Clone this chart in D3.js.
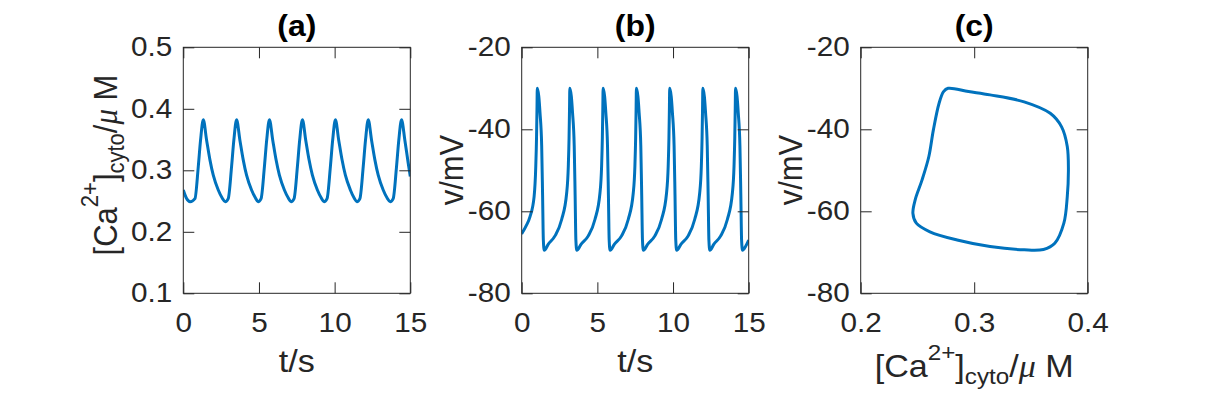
<!DOCTYPE html>
<html>
<head>
<meta charset="utf-8">
<script src="https://cdn.jsdelivr.net/npm/d3@7"></script>
<style>
  body { margin: 0; background: #fff; }
  svg { display: block; font-family: "Liberation Sans", Arial, Helvetica, sans-serif; }
</style>
</head>
<body>
<div id="chart"></div>
<script>
// (a) cytosolic calcium over time
let caTime = [0, 0.2, 0.45, 0.77, 0.99, 1.14, 1.32, 1.54, 1.76, 1.98, 2.31, 2.57,
  2.77, 2.97, 3.19, 3.34, 3.52, 3.74, 3.96, 4.18, 4.51, 4.77,
  4.94, 5.14, 5.36, 5.51, 5.69, 5.91, 6.13, 6.35, 6.68, 6.94,
  7.12, 7.32, 7.54, 7.69, 7.87, 8.09, 8.31, 8.53, 8.86, 9.12,
  9.30, 9.50, 9.72, 9.87, 10.05, 10.27, 10.49, 10.71, 11.04, 11.29,
  11.47, 11.67, 11.89, 12.04, 12.22, 12.44, 12.66, 12.88, 13.21, 13.47,
  13.67, 13.87, 14.09, 14.24, 14.42, 14.64, 14.86, 15.0];
let caValues = [0.268, 0.255, 0.249, 0.254, 0.306, 0.349, 0.382, 0.349, 0.317, 0.292, 0.268, 0.255,
  0.249, 0.254, 0.306, 0.349, 0.382, 0.349, 0.317, 0.292, 0.268, 0.255,
  0.249, 0.254, 0.306, 0.349, 0.382, 0.349, 0.317, 0.292, 0.268, 0.255,
  0.249, 0.254, 0.306, 0.349, 0.382, 0.349, 0.317, 0.292, 0.268, 0.255,
  0.249, 0.254, 0.306, 0.349, 0.382, 0.349, 0.317, 0.292, 0.268, 0.255,
  0.249, 0.254, 0.306, 0.349, 0.382, 0.349, 0.317, 0.292, 0.268, 0.255,
  0.249, 0.254, 0.306, 0.349, 0.382, 0.349, 0.312, 0.290];

// (b) membrane potential over time
let vTime = [0, 0.3, 0.55, 0.82, 0.93, 0.98, 1.01, 1.03,
  1.13, 1.21, 1.32, 1.38, 1.43, 1.49, 1.76, 2.2, 2.64, 2.97, 3.08, 3.13, 3.16, 3.18,
  3.28, 3.36, 3.47, 3.53, 3.58, 3.64, 3.93, 4.4, 4.84, 5.17, 5.28, 5.33, 5.36, 5.38,
  5.48, 5.56, 5.67, 5.73, 5.78, 5.84, 6.13, 6.6, 7.04, 7.37, 7.48, 7.53, 7.56, 7.58,
  7.68, 7.76, 7.87, 7.93, 7.98, 8.04, 8.33, 8.8, 9.24, 9.57, 9.68, 9.73, 9.76, 9.78,
  9.88, 9.96, 10.07, 10.13, 10.18, 10.24, 10.53, 11.0, 11.43, 11.76, 11.87, 11.92, 11.95, 11.97,
  12.07, 12.15, 12.26, 12.32, 12.37, 12.43, 12.7, 13.15, 13.59, 13.92, 14.03, 14.08, 14.11, 14.13,
  14.23, 14.31, 14.42, 14.48, 14.53, 14.59, 14.8, 15.0];
let vValues = [-65.5, -63.5, -61.3, -56.4, -49, -42, -35, -30,
  -32, -36, -44, -56, -67, -69.5, -68, -66, -62, -55.6, -49, -42, -35, -30,
  -32, -36, -44, -56, -67, -69.5, -68, -66, -62, -55.6, -49, -42, -35, -30,
  -32, -36, -44, -56, -67, -69.5, -68, -66, -62, -55.6, -49, -42, -35, -30,
  -32, -36, -44, -56, -67, -69.5, -68, -66, -62, -55.6, -49, -42, -35, -30,
  -32, -36, -44, -56, -67, -69.5, -68, -66, -62, -55.6, -49, -42, -35, -30,
  -32, -36, -44, -56, -67, -69.5, -68, -66, -62, -55.6, -49, -42, -35, -30,
  -32, -36, -44, -56, -67, -69.5, -68.5, -67];

// (c) limit cycle in the (Ca, v) plane
let loopCa = [0.277, 0.295, 0.314, 0.344, 0.367, 0.377, 0.382, 0.383, 0.382, 0.379, 0.371, 0.361,
  0.344, 0.314, 0.285, 0.261, 0.249, 0.246, 0.248, 0.254, 0.260, 0.264, 0.269, 0.273];
let loopV = [-30.0, -30.8, -31.6, -33.3, -36.1, -39.4, -44.2, -50.0, -56.4, -62.9, -67.8, -69.3,
  -69.4, -68.6, -67.0, -65.0, -62.9, -60.5, -57.2, -52.4, -46.7, -40.2, -33.7, -30.8];

let timeTicks = [0, 5, 10, 15];
let caTicks = [0.1, 0.2, 0.3, 0.4, 0.5];
let vTicks = [-80, -60, -40, -20];
let loopCaTicks = [0.2, 0.3, 0.4];
let panelTitles = ['(a)', '(b)', '(c)'];

let W = 1205, H = 403;
let axTop = 47.3, width = 227, height = 246;
let tickLen = 11;
let ink = '#262626';
let lineColor = '#0072BD';
let stretch = 1.1;   // the glyphs in the picture are a little wider than Arial
let tickFont = 27, labelFont = 31, subFont = 22;

let svg = d3.select('#chart').append('svg')
  .attr('width', W)
  .attr('height', H);

// [Ca2+]cyto/μ M, written with tspans for the super/subscripts
function caLabel(text) {
  text.append('tspan').text('[Ca');
  text.append('tspan').attr('dy', -17).attr('font-size', subFont).text('2+');
  text.append('tspan').attr('dy', 17).text(']');
  text.append('tspan').attr('dy', 7).attr('font-size', subFont).text('cyto');
  text.append('tspan').attr('dy', -7).text('/');
  text.append('tspan')
    .attr('font-family', '"Liberation Serif", "DejaVu Serif", serif')
    .attr('font-style', 'italic')
    .text('\u03bc');
  text.append('tspan').text(' M');
}

function styleAxis(sel) {
  sel.select('.domain').remove();
  sel.attr('font-family', null);
  sel.selectAll('line').attr('stroke', ink);
  sel.selectAll('text')
    .attr('fill', ink)
    .attr('font-size', tickFont)
    .attr('x', function() { return (+d3.select(this).attr('x') || 0) / stretch; })
    .attr('transform', 'scale(' + stretch + ',1)');
}

function drawPanel(cfg, i) {
  let g = svg.append('g').attr('transform', 'translate(' + cfg.left + ',' + axTop + ')');

  let x = d3.scaleLinear().domain(cfg.xDomain).range([0, width]);
  let y = d3.scaleLinear().domain(cfg.yDomain).range([height, 0]);

  g.append('clipPath').attr('id', 'clip' + i)
    .append('rect').attr('width', width).attr('height', height);

  let line = d3.line()
    .x(function(d) { return x(d[0]); })
    .y(function(d) { return y(d[1]); })
    .curve(cfg.curve);

  g.append('path')
    .datum(cfg.points)
    .attr('clip-path', 'url(#clip' + i + ')')
    .attr('fill', 'none')
    .attr('stroke', lineColor)
    .attr('stroke-width', 3)
    .attr('stroke-linejoin', 'round')
    .attr('d', line);

  // bottom / left axes with labels, ticks pointing inward
  g.append('g')
    .attr('transform', 'translate(0,' + height + ')')
    .call(d3.axisBottom(x).tickValues(cfg.xTicks).tickFormat(cfg.xFormat)
      .tickSizeInner(-tickLen).tickSizeOuter(0).tickPadding(20))
    .call(styleAxis);

  g.append('g')
    .call(d3.axisLeft(y).tickValues(cfg.yTicks).tickFormat(cfg.yFormat)
      .tickSizeInner(-tickLen).tickSizeOuter(0).tickPadding(11))
    .call(styleAxis);

  // top / right ticks without labels
  g.append('g')
    .call(d3.axisTop(x).tickValues(cfg.xTicks).tickFormat('')
      .tickSizeInner(-tickLen).tickSizeOuter(0))
    .call(styleAxis);

  g.append('g')
    .attr('transform', 'translate(' + width + ',0)')
    .call(d3.axisRight(y).tickValues(cfg.yTicks).tickFormat('')
      .tickSizeInner(-tickLen).tickSizeOuter(0))
    .call(styleAxis);

  // box
  g.append('rect')
    .attr('width', width)
    .attr('height', height)
    .attr('fill', 'none')
    .attr('stroke', ink)
    .attr('stroke-width', 1);

  // title
  g.append('text')
    .attr('transform', 'translate(' + (width / 2) + ',' + (36 - axTop) + ') scale(' + stretch + ',1)')
    .attr('text-anchor', 'middle')
    .attr('font-weight', 'bold')
    .attr('font-size', 29)
    .attr('fill', '#000')
    .text(panelTitles[i]);

  // x label
  let xl = g.append('text')
    .attr('transform', 'translate(' + (width / 2) + ',' + (cfg.xLabelY - axTop) + ') scale(' + stretch + ',1)')
    .attr('text-anchor', 'middle')
    .attr('font-size', labelFont)
    .attr('fill', ink);
  if (cfg.xLabel === 'ca') caLabel(xl); else xl.text(cfg.xLabel);

  // y label
  let yl = g.append('text')
    .attr('transform', 'translate(' + (cfg.yLabelX - cfg.left) + ',' + (cfg.yLabelMid - axTop) + ') scale(' + stretch + ',1) rotate(-90)')
    .attr('text-anchor', 'middle')
    .attr('font-size', labelFont)
    .attr('fill', ink);
  if (cfg.yLabel === 'ca') caLabel(yl); else yl.text(cfg.yLabel);
}

let panels = [
  {
    left: 183.3,
    xDomain: [0, 15], yDomain: [0.1, 0.5],
    xTicks: timeTicks, yTicks: caTicks,
    xFormat: function(d) { return String(d); },
    yFormat: function(d) { return d.toFixed(1); },
    points: caTime.map(function(t, k) { return [t, caValues[k]]; }),
    curve: d3.curveMonotoneX,
    xLabel: 't/s', xLabelY: 372,
    yLabel: 'ca', yLabelX: 116.5, yLabelMid: 165
  },
  {
    left: 521.7,
    xDomain: [0, 15], yDomain: [-80, -20],
    xTicks: timeTicks, yTicks: vTicks,
    xFormat: function(d) { return String(d); },
    yFormat: function(d) { return String(d); },
    points: vTime.map(function(t, k) { return [t, vValues[k]]; }),
    curve: d3.curveMonotoneX,
    xLabel: 't/s', xLabelY: 372,
    yLabel: 'v/mV', yLabelX: 463, yLabelMid: 170
  },
  {
    left: 860.7,
    xDomain: [0.2, 0.4], yDomain: [-80, -20],
    xTicks: loopCaTicks, yTicks: vTicks,
    xFormat: function(d) { return d.toFixed(1); },
    yFormat: function(d) { return String(d); },
    points: loopCa.map(function(c, k) { return [c, loopV[k]]; }),
    curve: d3.curveCatmullRomClosed.alpha(0.5),
    xLabel: 'ca', xLabelY: 377,
    yLabel: 'v/mV', yLabelX: 802, yLabelMid: 170
  }
];

panels.forEach(drawPanel);
</script>
</body>
</html>
